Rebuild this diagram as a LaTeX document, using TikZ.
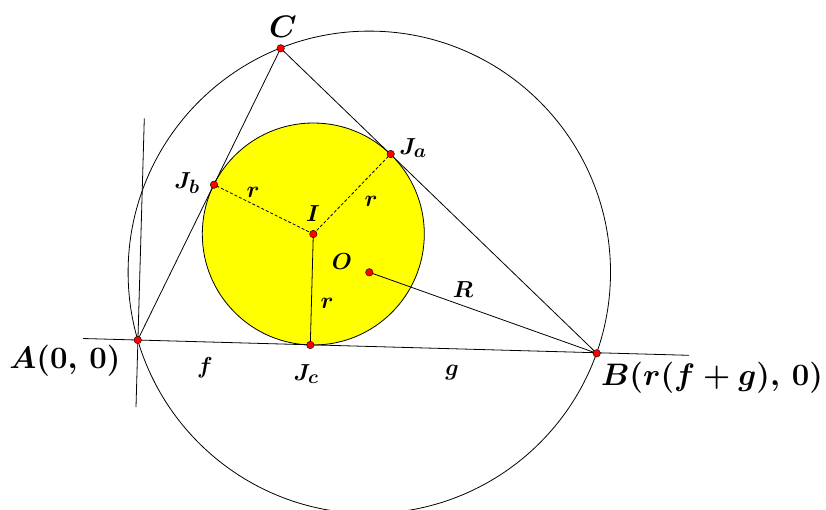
\documentclass[tikz,border=0pt]{standalone}
\usepackage{amsmath}
\definecolor{yel}{RGB}{255,255,0}
\begin{document}
\begin{tikzpicture}[x=1pt,y=-1pt,
  ln/.style={line width=0.8pt,black},
  pt/.style={circle,fill=red,draw=black,line width=0.4pt,inner sep=0pt,minimum size=7.5pt},
  big/.style={font=\Huge\boldmath,scale=1.25},
  sm/.style={font=\Huge\boldmath,scale=0.93}]
\useasboundingbox (0,0) rectangle (826,509);
% coordinates
\coordinate (A) at (137.7,340);
\coordinate (B) at (596.7,353.3);
\coordinate (C) at (280.7,48.3);
\coordinate (I) at (313.3,234);
\coordinate (O) at (369.3,272.3);
\coordinate (Ja) at (390.7,154);
\coordinate (Jb) at (214,184.7);
\coordinate (Jc) at (310.3,345);
\coordinate (L1) at (83,338.5);
\coordinate (L2) at (689,355.3);
\coordinate (P1) at (144.3,118.3);
\coordinate (P2) at (136,407);
% circles
\draw[ln] (O) circle[radius=241.2];
\draw[ln,fill=yel] (I) circle[radius=111];
% lines
\draw[ln] (L1) -- (L2);
\draw[ln] (P1) -- (P2);
\draw[ln] (A) -- (C) -- (B);
\draw[ln] (O) -- (B);
\draw[ln] (I) -- (Jc);
\draw[ln,dashed,dash pattern=on 3pt off 2pt] (I) -- (Ja);
\draw[ln,dashed,dash pattern=on 3pt off 2pt] (I) -- (Jb);
% points
\foreach \p in {A,B,C,I,O,Ja,Jb,Jc} \node[pt] (n\p) at (\p) {};
% labels
\node[big] (lA) at (65,361) {$A(0,\,0)$};
\node[big] (lB) at (712,378) {$B(r(f+g),\,0)$};
\node[big] (lC) at (283,27) {$C$};
\node[sm] (lJa) at (413,148) {$J_a$};
\node[sm] (lJb) at (187,183) {$J_b$};
\node[sm] (lJc) at (306,374) {$J_c$};
\node[sm] (lI) at (313,214) {$I$};
\node[sm] (lO) at (342,262) {$O$};
\node[sm] (lR) at (463,290) {$R$};
\node[sm] (lf) at (205,368) {$f$};
\node[sm] (lg) at (452,373) {$g$};
\node[sm] (lr1) at (327,303) {$r$};
\node[sm] (lr2) at (253,192) {$r$};
\node[sm] (lr3) at (371,201) {$r$};
\end{tikzpicture}
\end{document}
